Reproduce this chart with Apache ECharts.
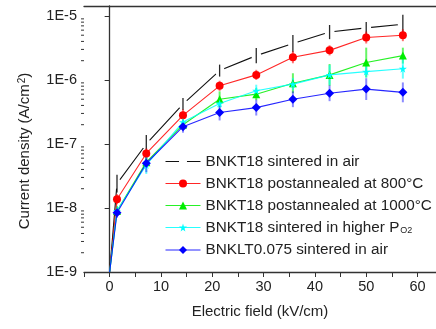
<!DOCTYPE html>
<html>
<head>
<meta charset="utf-8">
<script src="https://cdn.jsdelivr.net/npm/echarts@6/dist/echarts.min.js"></script>
<style>
  html, body { margin: 0; padding: 0; background: #fff; }
  #chart { width: 436px; height: 329px; }
</style>
</head>
<body>
<div id="chart"></div>
<script>
// electric field, kV/cm
var field = [0, 1.43, 7.14, 14.29, 21.43, 28.57, 35.71, 42.86, 50, 57.14];

// current density, A/cm2
var airBNKT = [1e-9, 2.4e-8, 1.0e-7, 4.2e-7, 1.4e-6, 2.4e-6, 3.7e-6, 5.6e-6, 6.5e-6, 7.4e-6];
var ann800 = [1e-9, 1.37e-8, 7.1e-8, 2.8e-7, 8.1e-7, 1.2e-6, 2.26e-6, 2.9e-6, 4.6e-6, 5.0e-6];
var ann1000 = [1e-9, 9e-9, 5.2e-8, 2.0e-7, 5.0e-7, 6.0e-7, 8.9e-7, 1.2e-6, 1.87e-6, 2.4e-6];
var highPO2 = [1e-9, 9e-9, 4.7e-8, 2.2e-7, 4.3e-7, 6.8e-7, 8.6e-7, 1.2e-6, 1.35e-6, 1.5e-6];
var airBNKLT = [1e-9, 8.4e-9, 5.0e-8, 1.86e-7, 3.1e-7, 3.7e-7, 5.0e-7, 6.2e-7, 7.2e-7, 6.4e-7];

// error bars as multiplicative factors (bar from v/f to v*f)
var airBNKTErr = [1, 1.38, 1.38, 1.24, 1.24, 1.31, 1.36, 1.29, 1.24, 1.41];
var ann800Err = [1, 1.2, 1.2, 1.24, 1.2, 1.2, 1.24, 1.2, 1.24, 1.24];
var ann1000Err = [1, 1.2, 1.2, 1.2, 1.33, 1.24, 1.43, 1.48, 1.71, 1.33];
var highPO2Err = [1, 1.2, 1.38, 1.2, 1.2, 1.24, 1.24, 1.43, 1.24, 1.43];
var airBNKLTErr = [1, 1.2, 1.38, 1.24, 1.33, 1.33, 1.33, 1.33, 1.48, 1.43];

var names = [
  "BNKT18 sintered in air",
  "BNKT18 postannealed at 800\u00b0C",
  "BNKT18 postannealed at 1000\u00b0C",
  "BNKT18 sintered in higher PO2",
  "BNKLT0.075 sintered in air"
];

var starPath = "path://M50,0 L61,35 L98,35 L68,57 L79,91 L50,70 L21,91 L32,57 L2,35 L39,35 Z";
var font = "'Liberation Sans', Arial, sans-serif";

function points(vals) {
  return field.map(function (x, i) {
    if (i === 0) return { value: [x, vals[i]], symbol: "none" };
    return [x, vals[i]];
  });
}

function lineSeries(name, vals, color, symbol, size) {
  return {
    name: name,
    type: "line",
    data: points(vals),
    symbol: symbol,
    symbolSize: size,
    itemStyle: { color: color },
    lineStyle: { color: color, width: 1.1, opacity: 0.85 },
    z: 4
  };
}

function errSeries(vals, errs, color, width, opacity) {
  return {
    type: "custom",
    silent: true,
    z: 3,
    data: field.map(function (x, i) {
      return [x, vals[i] / errs[i], vals[i] * errs[i]];
    }),
    encode: { x: 0, y: [1, 2] },
    renderItem: function (params, api) {
      var a = api.coord([api.value(0), api.value(1)]);
      var b = api.coord([api.value(0), api.value(2)]);
      return {
        type: "line",
        shape: { x1: a[0], y1: a[1], x2: b[0], y2: b[1] },
        style: { stroke: color, lineWidth: width, opacity: opacity }
      };
    }
  };
}

// minor ticks of the log axis at 2..9 x 10^n
var minorTicks = [];
for (var e = -9; e <= -5; e++) {
  for (var k = 2; k <= 9; k++) {
    var v = k * Math.pow(10, e);
    if (v < 1.43e-5) minorTicks.push([-5, v]);
  }
}

var chart = echarts.init(document.getElementById("chart"));
chart.setOption({
  animation: false,
  backgroundColor: "#fff",
  textStyle: { fontFamily: font },
  grid: { left: 84, top: 6, right: 0, bottom: 57 },
  legend: {
    orient: "vertical",
    left: 165,
    top: 154,
    padding: 0,
    itemWidth: 35,
    itemHeight: 10,
    itemGap: 7,
    data: names,
    lineStyle: { width: 1 },
    formatter: function (n) {
      if (n === names[3]) return "{t|BNKT18 sintered in higher P}{s|O2}";
      return "{t|" + n + "}";
    },
    textStyle: {
      color: "#222",
      rich: {
        t: { fontSize: 15.3, fontFamily: font, color: "#222", lineHeight: 16 },
        s: { fontSize: 9, fontFamily: font, color: "#222", lineHeight: 16, verticalAlign: "bottom", padding: [6, 0, 0, 1] }
      }
    }
  },
  xAxis: [
    {
      type: "value",
      min: -5,
      max: 63.6,
      interval: 5,
      splitLine: { show: false },
      axisLine: { lineStyle: { color: "#333", width: 1.3 } },
      axisTick: { inside: false, length: 5, lineStyle: { color: "#333" } },
      axisLabel: {
        color: "#222",
        fontSize: 14.5,
        margin: 7,
        showMaxLabel: false,
        formatter: function (v) {
          return v % 10 === 0 && v >= 0 ? String(v) : "";
        }
      },
      name: "Electric field (kV/cm)",
      nameLocation: "middle",
      nameGap: 32,
      nameTextStyle: { color: "#222", fontSize: 15 }
    },
    {
      type: "value",
      position: "top",
      min: -5,
      max: 63.6,
      axisLine: { show: true, lineStyle: { color: "#333", width: 1.3 } },
      axisTick: { show: false },
      axisLabel: { show: false },
      splitLine: { show: false }
    }
  ],
  yAxis: {
    type: "log",
    logBase: 10,
    min: 1e-9,
    max: 1.43e-5,
    splitLine: { show: false },
    axisLine: { show: true, lineStyle: { color: "#333", width: 1.3 } },
    axisTick: { inside: false, length: 5, lineStyle: { color: "#333" } },
    axisLabel: {
      color: "#222",
      fontSize: 14.5,
      margin: 7,
      showMaxLabel: false,
      formatter: function (v) {
        return "1E" + Math.round(Math.log10(v));
      }
    }
  },
  graphic: [
    {
      type: "text",
      x: 25,
      y: 151,
      rotation: Math.PI / 2,
      style: {
        text: "Current density (A/cm{sup|2})",
        fill: "#222",
        font: "15px " + font,
        textAlign: "center",
        textVerticalAlign: "middle",
        rich: {
          sup: { fontSize: 10, fontFamily: font, fill: "#222", verticalAlign: "top", padding: [0, 0, 6, 1] }
        }
      }
    }
  ],
  series: [
    {
      type: "custom",
      silent: true,
      clip: false,
      data: minorTicks,
      renderItem: function (params, api) {
        var p = api.coord([api.value(0), api.value(1)]);
        return {
          type: "line",
          shape: { x1: p[0] - 3, y1: p[1], x2: p[0], y2: p[1] },
          style: { stroke: "#333", lineWidth: 1 }
        };
      }
    },
    {
      name: names[0],
      type: "line",
      data: points(airBNKT),
      symbol: "circle",
      symbolSize: 10,
      itemStyle: { color: "#fff", borderWidth: 0 },
      lineStyle: { color: "#111", width: 1.1 },
      z: 2
    },
    lineSeries(names[1], ann800, "#ff0000", "circle", 8),
    lineSeries(names[2], ann1000, "#00ee00", "triangle", 8),
    lineSeries(names[3], highPO2, "#00ffff", starPath, 8),
    lineSeries(names[4], airBNKLT, "#0000ff", "diamond", 9),
    errSeries(airBNKT, airBNKTErr, "#111", 1.3, 0.9),
    errSeries(ann800, ann800Err, "#ff0000", 2, 0.55),
    errSeries(ann1000, ann1000Err, "#00ee00", 2, 0.6),
    errSeries(highPO2, highPO2Err, "#00ffff", 2, 0.6),
    errSeries(airBNKLT, airBNKLTErr, "#0000ff", 2, 0.45)
  ]
});
</script>
</body>
</html>
